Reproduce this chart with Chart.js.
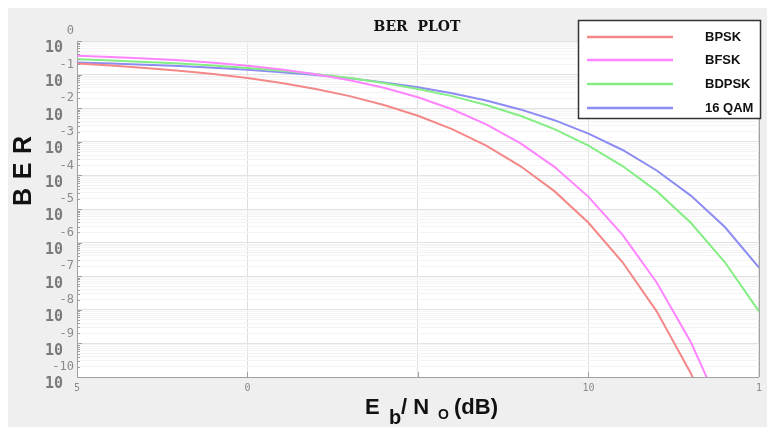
<!DOCTYPE html>
<html>
<head>
<meta charset="utf-8">
<script src="https://cdn.jsdelivr.net/npm/chart.js@4.4.1/dist/chart.umd.min.js"></script>
<style>
  html, body { margin: 0; padding: 0; background: #fff; }
  #wrap { width: 767px; height: 427px; }
</style>
</head>
<body>
<div id="wrap"><canvas id="berChart" width="767" height="427"></canvas></div>
<script>
// BER plot

const ebNo = [-5, -4, -3, -2, -1, 0, 1, 2, 3, 4, 5, 6, 7, 8, 9, 10, 11, 12, 13, 14, 15];

const berBpsk = [2.13e-1, 1.86e-1, 1.58e-1, 1.31e-1, 1.04e-1, 7.86e-2, 5.63e-2, 3.75e-2, 2.29e-2, 1.25e-2,
                 5.95e-3, 2.39e-3, 7.7e-4, 1.9e-4, 3.4e-5, 3.9e-6, 2.6e-7, 9.0e-9, 1.3e-10, 7e-13, 9e-16];
const berBfsk = [3.64e-1, 3.36e-1, 3.03e-1, 2.66e-1, 2.26e-1, 1.84e-1, 1.42e-1, 1.03e-1, 6.8e-2, 4.06e-2,
                 2.12e-2, 9.3e-3, 3.3e-3, 9.1e-4, 1.8e-4, 2.3e-5, 1.7e-6, 6.5e-8, 1.1e-9, 6.2e-12, 9.2e-15];
const berBdpsk = [2.87e-1, 2.64e-1, 2.39e-1, 2.13e-1, 1.86e-1, 1.58e-1, 1.31e-1, 1.04e-1, 7.86e-2, 5.63e-2,
                  3.75e-2, 2.29e-2, 1.25e-2, 5.95e-3, 2.39e-3, 7.7e-4, 1.9e-4, 3.4e-5, 3.9e-6, 2.6e-7, 9.0e-9];
const berQam16 = [2.31e-1, 2.15e-1, 1.98e-1, 1.79e-1, 1.59e-1, 1.39e-1, 1.18e-1, 9.75e-2, 7.73e-2, 5.87e-2,
                  4.19e-2, 2.77e-2, 1.69e-2, 9.2e-3, 4.4e-3, 1.75e-3, 5.7e-4, 1.4e-4, 2.5e-5, 2.9e-6, 1.8e-7];

const seriesNames = ['BPSK', 'BFSK', 'BDPSK', '16 QAM'];

// axis ticks
const xTicks = [-5, 0, 5, 10, 15];
const xTickLabels = ['5', '0', '', '10', '1'];
const yDecades = [1, 1e-1, 1e-2, 1e-3, 1e-4, 1e-5, 1e-6, 1e-7, 1e-8, 1e-9, 1e-10];
const yExponents = ['0', '-1', '-2', '-3', '-4', '-5', '-6', '-7', '-8', '-9', '-10'];

function toPoints(values) {
    return ebNo.map((x, i) => ({ x: x, y: values[i] }));
}

// background panel, white plot area
const panelPlugin = {
    id: 'panel',
    beforeDraw(chart) {
        const c = chart.ctx;
        const a = chart.chartArea;
        c.save();
        c.fillStyle = '#ffffff';
        c.fillRect(0, 0, chart.width, chart.height);
        c.fillStyle = '#efefef';
        c.fillRect(8, 8, chart.width - 8, chart.height - 8);
        c.fillStyle = '#ffffff';
        c.fillRect(a.left, a.top, a.right - a.left, a.bottom - a.top);
        c.restore();
    }
};

// MATLAB-like decorations: power-of-ten labels, titles, legend
const decorPlugin = {
    id: 'decor',
    afterDraw(chart) {
        const c = chart.ctx;
        const a = chart.chartArea;
        const ys = chart.scales.y;
        const xs = chart.scales.x;
        c.save();

        // right frame + inner tick marks
        c.strokeStyle = '#a0a0a0';
        c.lineWidth = 1;
        c.beginPath();
        c.moveTo(a.right + 0.5, a.top);
        c.lineTo(a.right + 0.5, a.bottom);
        c.stroke();
        ys.ticks.forEach(t => {
            const py = Math.round(ys.getPixelForValue(t.value)) + 0.5;
            const len = t.major ? 5 : 3;
            c.beginPath();
            c.moveTo(a.left, py);
            c.lineTo(a.left + len, py);
            c.stroke();
        });
        xs.ticks.forEach(t => {
            const px = Math.round(xs.getPixelForValue(t.value)) + 0.5;
            c.beginPath();
            c.moveTo(px, a.bottom);
            c.lineTo(px, a.bottom - 5);
            c.stroke();
        });

        // y tick labels: 10 with exponent
        yDecades.forEach((v, i) => {
            const py = ys.getPixelForValue(v);
            c.textBaseline = 'middle';
            c.textAlign = 'right';
            c.fillStyle = '#7a7a7a';
            c.font = 'bold 15px "DejaVu Sans Mono"';
            c.fillText('10', 63, py + 7.5);
            c.fillStyle = '#8a8a8a';
            c.font = '12px "DejaVu Sans Mono"';
            c.fillText(yExponents[i], 74, py - 10);
        });

        // chart title
        c.fillStyle = '#111';
        c.textAlign = 'center';
        c.textBaseline = 'middle';
        c.font = 'bold 14px "DejaVu Serif"';
        c.fillText('BER  PLOT', 417, 27);

        // y axis title, letters spread out
        c.save();
        c.translate(24, 172);
        c.rotate(-Math.PI / 2);
        c.font = 'bold 25px "Liberation Sans"';
        c.fillStyle = '#111';
        c.fillText('B', -25, 0);
        c.fillText('E', 1, 0);
        c.fillText('R', 27, 0);
        c.restore();

        // x axis title with subscripts
        c.textAlign = 'left';
        c.textBaseline = 'alphabetic';
        c.fillStyle = '#111';
        c.font = 'bold 22px "Liberation Sans"';
        c.fillText('E', 365, 414);
        c.font = 'bold 20px "Liberation Sans"';
        c.fillText('b', 389, 424);
        c.font = 'bold 22px "Liberation Sans"';
        c.fillText('/ N', 401, 414);
        c.font = 'bold 14px "Liberation Sans"';
        c.fillText('O', 438, 419);
        c.font = 'bold 22px "Liberation Sans"';
        c.fillText('(dB)', 454, 414);

        // legend box
        const bx = 578, by = 20, bw = 182, bh = 98;
        c.fillStyle = '#ffffff';
        c.fillRect(bx, by, bw, bh);
        c.strokeStyle = '#333';
        c.lineWidth = 1.5;
        c.strokeRect(bx + 0.5, by + 0.5, bw, bh);
        const rowY = [37, 60, 84, 108];
        chart.data.datasets.forEach((ds, i) => {
            c.strokeStyle = ds.borderColor;
            c.lineWidth = 2.5;
            c.beginPath();
            c.moveTo(587, rowY[i]);
            c.lineTo(673, rowY[i]);
            c.stroke();
            c.fillStyle = '#111';
            c.font = 'bold 13px "Liberation Sans"';
            c.textBaseline = 'middle';
            c.fillText(ds.label, 705, rowY[i]);
        });
        c.restore();
    }
};

const ctx = document.getElementById('berChart').getContext('2d');
new Chart(ctx, {
    type: 'line',
    data: {
        datasets: [
            { label: seriesNames[0], data: toPoints(berBpsk), borderColor: '#f48888' },
            { label: seriesNames[1], data: toPoints(berBfsk), borderColor: '#ff84ff' },
            { label: seriesNames[2], data: toPoints(berBdpsk), borderColor: '#84ee84' },
            { label: seriesNames[3], data: toPoints(berQam16), borderColor: '#8c8cf2' }
        ]
    },
    options: {
        responsive: false,
        animation: false,
        devicePixelRatio: 1,
        layout: { padding: { top: 41, right: 5, left: 0, bottom: 0 } },
        elements: {
            line: { borderWidth: 2, tension: 0, fill: false },
            point: { radius: 0 }
        },
        plugins: {
            legend: { display: false },
            title: { display: false },
            tooltip: { enabled: false }
        },
        scales: {
            x: {
                type: 'linear',
                min: -5,
                max: 15,
                afterBuildTicks: scale => {
                    scale.ticks = xTicks.map(v => ({ value: v }));
                },
                afterFit: scale => { scale.height = 50; },
                grid: { color: '#dedede', drawTicks: false },
                border: { display: true, color: '#a0a0a0' },
                ticks: {
                    padding: 5,
                    color: '#8a8a8a',
                    font: { family: 'DejaVu Sans Mono', size: 10 },
                    callback: (value, index) => xTickLabels[index]
                }
            },
            y: {
                type: 'logarithmic',
                min: 1e-10,
                max: 1,
                afterBuildTicks: scale => {
                    const ticks = [];
                    yDecades.forEach(d => {
                        ticks.push({ value: d, major: true });
                        if (d > 1e-10) {
                            for (let m = 2; m <= 9; m++) ticks.push({ value: d * m / 10, major: false });
                        }
                    });
                    scale.ticks = ticks;
                },
                afterFit: scale => { scale.width = 77; },
                grid: {
                    drawTicks: false,
                    color: c => (c.tick && c.tick.major) ? '#e2e2e2' : '#f4f4f4'
                },
                border: { display: true, color: '#a0a0a0' },
                ticks: { display: false }
            }
        }
    },
    plugins: [panelPlugin, decorPlugin]
});
</script>
</body>
</html>
